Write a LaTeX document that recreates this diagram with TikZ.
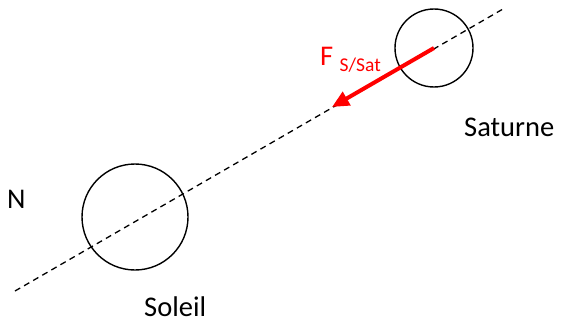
\documentclass[tikz,border=0pt]{standalone}
\usepackage{fontspec}
\setmainfont{Carlito}
\usetikzlibrary{arrows.meta}

\tikzset{
  body/.style={circle,draw,line width=1.4pt,inner sep=0pt},
  lbl/.style={font=\fontsize{28.5}{32}\selectfont,inner sep=0pt,anchor=base west},
  axis/.style={line width=1.3pt,dash pattern=on 6pt off 4.5pt},
  force/.style={red,line width=4pt,-{Triangle[length=17pt,width=15pt]}}
}

\begin{document}
\begin{tikzpicture}[x=1pt,y=-1pt]
  \useasboundingbox (0,0) rectangle (573,321);

  % Line through the two bodies
  \coordinate (axisA) at (15,291);
  \coordinate (axisB) at (503,9);
  \draw[axis] (axisA) -- (axisB);

  % Bodies
  \node[body,minimum size=106pt] (soleil) at (135,217) {};
  \node[body,minimum size=78pt] (saturne) at (434,48) {};

  % Force on Saturn
  \coordinate (tip) at (332,107);
  \draw[force] (saturne.center) -- (tip);

  % Labels
  \node[lbl,red] (fsat) at (320,66) {F \raisebox{-6pt}{\fontsize{19.5}{22}\selectfont S/Sat}};
  \node[lbl] (nsat) at (464,136) {Saturne};
  \node[lbl] (nsol) at (144,316) {Soleil};
  \node[lbl] (nord) at (7,208) {N};
\end{tikzpicture}
\end{document}
